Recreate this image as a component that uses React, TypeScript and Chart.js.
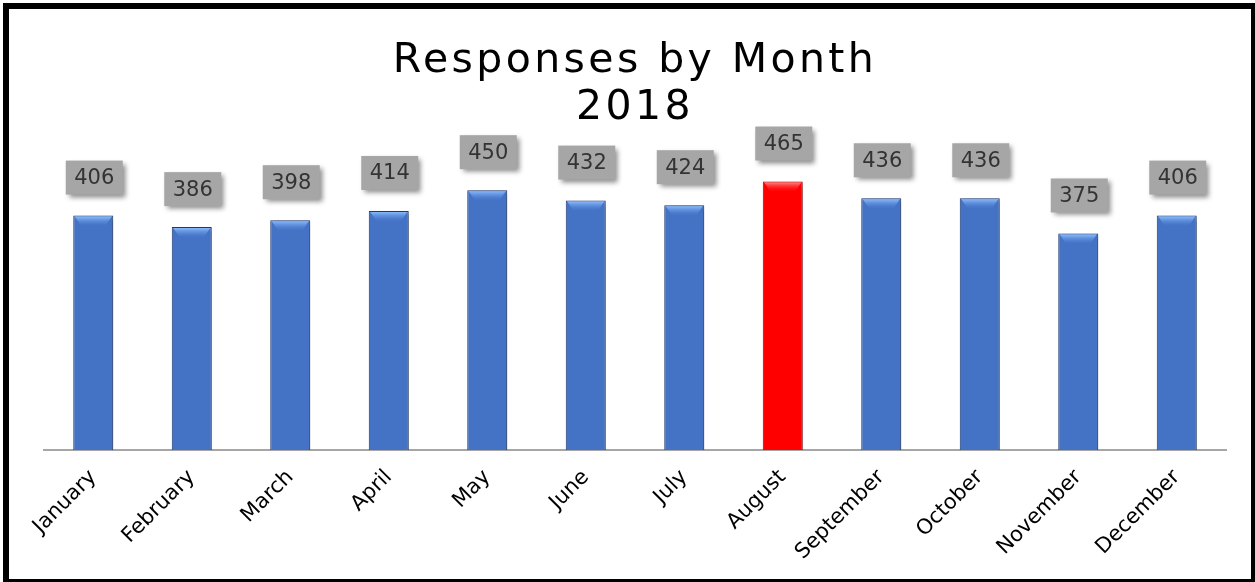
import React, { useEffect, useRef } from "react";
import { Chart, registerables } from "chart.js";

Chart.register(...registerables);

const months = [
  "January", "February", "March", "April", "May", "June",
  "July", "August", "September", "October", "November", "December",
];
const responses = [406, 386, 398, 414, 450, 432, 424, 465, 436, 436, 375, 406];
const highlightMonth = "August";
const titleLines = ["Responses by Month", "2018"];

const labelFont = "21px 'DejaVu Sans', sans-serif";

const barFill = (ctx: any) => {
  const chart = ctx.chart;
  const el = ctx.element;
  const isHi = months[ctx.dataIndex] === highlightMonth;
  if (!el || !chart.ctx || el.width == null || isNaN(el.x)) return isHi ? "#ff0000" : "#4472c4";
  const w = el.width;
  const g = chart.ctx.createLinearGradient(el.x - w / 2, 0, el.x + w / 2, 0);
  if (isHi) {
    g.addColorStop(0, "#d40000");
    g.addColorStop(0.12, "#ff0000");
    g.addColorStop(0.88, "#ff0000");
    g.addColorStop(1, "#d40000");
  } else {
    g.addColorStop(0, "#2f5aa6");
    g.addColorStop(0.12, "#4473c8");
    g.addColorStop(0.5, "#4d7fd6");
    g.addColorStop(0.88, "#4473c8");
    g.addColorStop(1, "#2f5aa6");
  }
  return g;
};

const barShadowPlugin = {
  id: "barShadow",
  beforeDatasetDraw(chart: any) {
    const c = chart.ctx;
    c.save();
    c.shadowColor = "rgba(0,0,0,0.35)";
    c.shadowBlur = 5;
    c.shadowOffsetX = 2;
    c.shadowOffsetY = 2;
  },
  afterDatasetDraw(chart: any) {
    const c = chart.ctx;
    c.restore();
    const meta = chart.getDatasetMeta(0);
    c.save();
    meta.data.forEach((el: any, i: number) => {
      const isHi = months[i] === highlightMonth;
      const w = el.width;
      const x0 = el.x - w / 2 + 1.5;
      const x1 = el.x + w / 2 - 1.5;
      const y0 = el.y + 1;
      const g = c.createLinearGradient(0, y0, 0, y0 + 10);
      if (isHi) {
        g.addColorStop(0, "rgba(255,140,140,0.9)");
        g.addColorStop(1, "rgba(255,0,0,0)");
      } else {
        g.addColorStop(0, "rgba(140,190,255,0.95)");
        g.addColorStop(1, "rgba(77,127,214,0)");
      }
      c.fillStyle = g;
      c.beginPath();
      c.moveTo(x0, y0);
      c.lineTo(x1, y0);
      c.lineTo(x1 - 6, y0 + 9);
      c.lineTo(x0 + 6, y0 + 9);
      c.closePath();
      c.fill();
    });
    c.restore();
  },
};

const valueBoxPlugin = {
  id: "valueBoxes",
  afterDatasetsDraw(chart: any) {
    const c = chart.ctx;
    const meta = chart.getDatasetMeta(0);
    const bw = 57;
    const bh = 34;
    meta.data.forEach((el: any, i: number) => {
      const cx = el.x + 1;
      const cy = el.y - 38;
      c.save();
      c.shadowColor = "rgba(0,0,0,0.45)";
      c.shadowBlur = 5;
      c.shadowOffsetX = 3;
      c.shadowOffsetY = 3;
      c.fillStyle = "#a6a6a6";
      c.fillRect(cx - bw / 2, cy - bh / 2, bw, bh);
      c.restore();
      c.save();
      c.fillStyle = "#333333";
      c.font = labelFont;
      c.textAlign = "center";
      c.textBaseline = "middle";
      c.fillText(String(responses[i]), cx, cy + 1);
      c.restore();
    });
  },
};

export default function App() {
  const ref = useRef<HTMLCanvasElement | null>(null);

  useEffect(() => {
    if (!ref.current) return;
    const chart = new Chart(ref.current, {
      type: "bar",
      data: {
        labels: months,
        datasets: [
          {
            data: responses,
            backgroundColor: barFill,
            borderColor: (ctx: any) =>
              months[ctx.dataIndex] === highlightMonth ? "#b00000" : "#1f3c78",
            borderWidth: 1,
            barPercentage: 0.406,
            categoryPercentage: 1,
          },
        ],
      },
      options: {
        responsive: false,
        animation: false,
        devicePixelRatio: 1,
        layout: { padding: { left: 35, right: 25, bottom: 9, top: 0 } },
        plugins: {
          legend: { display: false },
          tooltip: { enabled: false },
          title: {
            display: true,
            text: titleLines,
            color: "#000000",
            font: { family: "'DejaVu Sans', sans-serif", size: 41, weight: "normal", lineHeight: 1.15 },
            padding: { top: 29, bottom: 29 },
          },
        },
        scales: {
          x: {
            grid: { display: false, drawTicks: false },
            border: { display: true, color: "#a6a6a6", width: 2 },
            ticks: {
              color: "#000000",
              font: { family: "'DejaVu Sans', sans-serif", size: 21 },
              maxRotation: 45,
              minRotation: 45,
              padding: 15,
              autoSkip: false,
            },
            afterFit(scale: any) {
              scale.height = 120;
              scale.paddingLeft = 0;
              scale.paddingRight = 0;
            },
          },
          y: {
            display: false,
            min: 0,
            max: 500,
          },
        },
      },
      plugins: [barShadowPlugin, valueBoxPlugin],
    });
    const tb = (chart as any).titleBlock;
    if (tb) {
      const orig = tb.draw.bind(tb);
      tb.draw = (...args: any[]) => {
        const c = chart.ctx as any;
        c.save();
        c.letterSpacing = "3.4px";
        orig(...args);
        c.restore();
      };
      chart.draw();
    }
    return () => chart.destroy();
  }, []);

  return (
    <div
      style={{
        position: "fixed",
        left: 3,
        top: 3,
        width: 1254,
        height: 582,
        border: "6px solid #000",
        boxSizing: "border-box",
        background: "#fff",
      }}
    >
      <canvas ref={ref} width={1242} height={570} style={{ display: "block" }} />
    </div>
  );
}
